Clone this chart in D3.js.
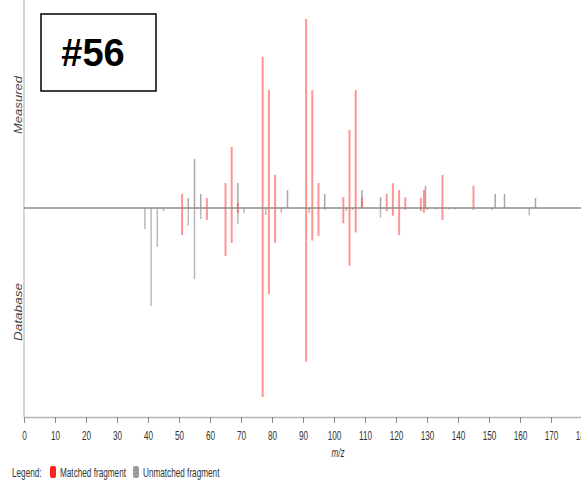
<!DOCTYPE html>
<html>
<head>
<meta charset="utf-8">
<script src="https://cdn.jsdelivr.net/npm/d3@7"></script>
<style>
  html, body { margin: 0; padding: 0; background: #fff; }
  svg { display: block; }
</style>
</head>
<body>
<svg id="chart" width="581" height="480"></svg>
<script>
// Mirror plot: measured spectrum above the baseline, database spectrum below.
// Each entry is [m/z, relative intensity %].
const matchedMeasured = [
  [51, 7.4], [59, 5.3], [65, 13.2], [67, 32.3], [69, 2.6], [77, 80], [79, 62.4],
  [81, 17.5], [91, 100], [93, 62.4], [95, 13.2], [103, 5.7], [105, 41.3],
  [107, 62.4], [109, 5.8], [117, 7.4], [119, 13.1], [121, 9.5], [123, 5.7],
  [128, 5.4], [129, 9.5], [135, 17.5], [145, 11.8]
];
const unmatchedMeasured = [
  [53, 5.3], [55, 25.9], [57, 7.4], [69, 13.2], [85, 9.5], [97, 7.4], [109, 9.5],
  [115, 5.7], [129.5, 11.6], [152, 7.4], [155, 7.4], [165, 5.3]
];
const matchedDatabase = [
  [51, 14.3], [59, 6.3], [65, 25.4], [67, 18.5], [69, 2.6], [77, 100], [79, 45.5],
  [81, 18.4], [91, 81.3], [93, 17.3], [95, 14.8], [103, 8.1], [105, 30.5],
  [107, 12.9], [117, 1.6], [119, 4.1], [121, 14.3], [123, 1.0], [128, 1.6],
  [129, 2.5], [135, 6.3], [145, 1.0]
];
const unmatchedDatabase = [
  [39, 11.1], [41, 51.9], [43, 20.6], [45, 1.6], [53, 9.4], [55, 37.6], [57, 5.8],
  [69, 8.5], [71, 2.6], [78, 3.7], [83, 2.6], [92, 2.6], [97, 1.0], [104, 1.6],
  [106, 1.0], [115, 5.1], [130, 1.0], [133, 0.8], [137, 0.8], [139, 0.8],
  [151, 1.0], [163, 3.9]
];
const xTicks = d3.range(0, 181, 10);
const legendItems = [
  { label: "Matched fragment", color: "#ff2020" },
  { label: "Unmatched fragment", color: "#9a9a9a" }
];
const badgeText = "#56";

const svg = d3.select("#chart");
const x = d3.scaleLinear().domain([0, 180]).range([24, 582]);
const y = d3.scaleLinear().domain([-100, 100]).range([397, 19]);
const axisY = 417;
const font = "'Liberation Sans', Arial, sans-serif";
const squeeze = 0.63;   // condensed look for the small labels

// small condensed label helper
function label(parent, tx, ty, text, anchor) {
  return parent.append("text")
    .attr("transform", `translate(${tx},${ty}) scale(${squeeze},1)`)
    .attr("text-anchor", anchor || "start")
    .attr("font-family", font).attr("font-size", 13).attr("fill", "#333")
    .text(text);
}

// left frame line
svg.append("line")
  .attr("x1", x(0)).attr("x2", x(0)).attr("y1", 0).attr("y2", axisY)
  .attr("stroke", "#c8c8c8").attr("stroke-width", 1.5);

// peaks: unmatched first, matched drawn over them
function drawSticks(data, sign, color, width, opacity) {
  svg.append("g").selectAll("line").data(data).join("line")
    .attr("x1", d => x(d[0])).attr("x2", d => x(d[0]))
    .attr("y1", y(0)).attr("y2", d => y(sign * d[1]))
    .attr("stroke", color).attr("stroke-width", width)
    .attr("stroke-opacity", opacity);
}
drawSticks(unmatchedMeasured, 1, "#8a8a8a", 1.5, 0.75);
drawSticks(unmatchedDatabase, -1, "#8a8a8a", 1.5, 0.6);
drawSticks(matchedMeasured, 1, "#ff4d4d", 2, 0.6);
drawSticks(matchedDatabase, -1, "#ff4d4d", 2, 0.6);

// zero line
svg.append("line")
  .attr("x1", x(0)).attr("x2", 581).attr("y1", y(0)).attr("y2", y(0))
  .attr("stroke", "#8c8c8c").attr("stroke-width", 1.5);

// x axis
const xAxis = svg.append("g")
  .attr("transform", `translate(0,${axisY})`)
  .call(d3.axisBottom(x).tickValues(xTicks).tickSize(6).tickSizeOuter(0).tickFormat(""));
xAxis.select(".domain").attr("stroke", "#b4b4b4").attr("stroke-width", 1.5);
xAxis.selectAll(".tick line").attr("stroke", "#8c8c8c");
xAxis.selectAll(".tick").each(function (d) {
  label(d3.select(this), 0, 23, d3.format("d")(d), "middle");
});

label(svg, 338, 457, "m/z", "middle").attr("font-style", "italic");

// side labels
[["Measured", 105], ["Database", 312]].forEach(([t, cy]) => {
  svg.append("text")
    .attr("transform", `translate(22,${cy}) rotate(-90)`)
    .attr("text-anchor", "middle")
    .attr("font-family", font).attr("font-size", 11)
    .attr("font-style", "italic").attr("fill", "#444")
    .attr("textLength", 58).attr("lengthAdjust", "spacingAndGlyphs")
    .text(t);
});

// legend
const lg = svg.append("g");
label(lg, 12, 476.5, "Legend:");
let lx = 50;
legendItems.forEach(item => {
  lg.append("rect").attr("x", lx).attr("y", 466).attr("width", 6).attr("height", 12)
    .attr("rx", 2).attr("fill", item.color);
  const t = label(lg, lx + 10, 476.5, item.label);
  lx += 10 + t.node().getComputedTextLength() * squeeze + 7;
});

// badge box
svg.append("rect")
  .attr("x", 41).attr("y", 14).attr("width", 115).attr("height", 77)
  .attr("fill", "#fff").attr("stroke", "#000").attr("stroke-width", 1.5);
svg.append("text")
  .attr("x", 93).attr("y", 66).attr("text-anchor", "middle")
  .attr("font-family", font)
  .attr("font-weight", "bold").attr("font-size", 38).attr("fill", "#000")
  .text(badgeText);
</script>
</body>
</html>
